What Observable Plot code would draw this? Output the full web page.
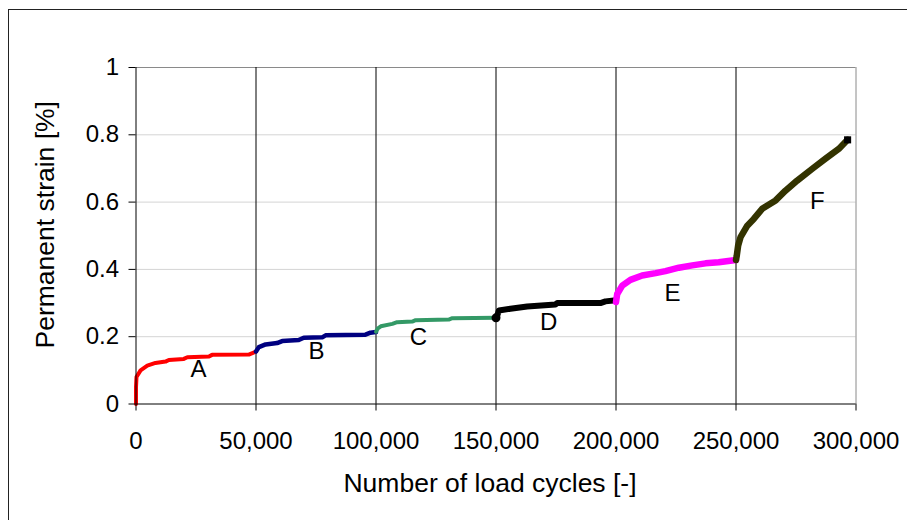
<!DOCTYPE html>
<html>
<head>
<meta charset="utf-8">
<script src="https://cdn.jsdelivr.net/npm/d3@7"></script>
<script src="https://cdn.jsdelivr.net/npm/@observablehq/plot@0.6"></script>
<style>
  body { margin: 0; background: #fff; }
  #chart { position: relative; width: 907px; height: 520px; overflow: hidden; }
  #frame { position: absolute; left: 8px; top: 9px; width: 940px; height: 560px;
           border: 1.5px solid #222; box-sizing: border-box; }
  #chart svg { position: absolute; left: 0; top: 0; }
</style>
</head>
<body>
<div id="chart"><div id="frame"></div></div>
<script>
// Permanent strain measured over six successive load stages (A–F)
const segmentNames = ["A", "B", "C", "D", "E", "F"];

const cyclesA = [0, 0, 200, 1900, 4700, 8100, 12300, 13700, 19900, 21400, 30400, 31700, 47000, 50000];
const strainA = [0, 0.05, 0.08, 0.10, 0.114, 0.122, 0.126, 0.131, 0.134, 0.139, 0.141, 0.146, 0.147, 0.156];

const cyclesB = [50000, 51200, 54000, 58800, 60900, 67800, 69900, 77600, 79000, 95600, 97700, 100000];
const strainB = [0.156, 0.169, 0.177, 0.181, 0.187, 0.190, 0.197, 0.198, 0.204, 0.206, 0.212, 0.214];

const cyclesC = [100000, 100800, 102000, 106800, 108800, 115100, 116500, 130300, 131800, 150000];
const strainC = [0.215, 0.225, 0.231, 0.238, 0.243, 0.245, 0.249, 0.251, 0.255, 0.256];

const cyclesD = [150000, 150500, 151200, 156000, 163000, 174800, 175500, 193500, 195600, 200000];
const strainD = [0.256, 0.262, 0.278, 0.283, 0.290, 0.296, 0.300, 0.300, 0.305, 0.308];

const cyclesE = [200000, 200500, 202600, 206000, 210900, 216500, 220600, 226200, 231800, 237300, 242800, 250000];
const strainE = [0.303, 0.327, 0.352, 0.369, 0.382, 0.389, 0.395, 0.405, 0.412, 0.418, 0.421, 0.428];

const cyclesF = [250000, 250300, 250900, 251900, 254700, 257400, 260900, 266500, 270600, 275500, 281800, 287300, 292800, 296500];
const strainF = [0.428, 0.440, 0.471, 0.496, 0.530, 0.550, 0.580, 0.605, 0.634, 0.664, 0.699, 0.729, 0.758, 0.785];

// Where each stage letter sits, in data units
const labelCycles = [26000, 75200, 117700, 171900, 223500, 283900];
const labelStrain = [0.1025, 0.156, 0.198, 0.242, 0.328, 0.602];

const xTicks = [0, 50000, 100000, 150000, 200000, 250000, 300000];
const xTickLabels = ["0", "50,000", "100,000", "150,000", "200,000", "250,000", "300,000"];
const yTicks = [0, 0.2, 0.4, 0.6, 0.8, 1];
const yTickLabels = ["0", "0.2", "0.4", "0.6", "0.8", "1"];

const xTitle = "Number of load cycles [-]";
const yTitle = "Permanent strain [%]";

// Stroke colour and weight per stage
const segColors = ["#ff0000", "#000080", "#339966", "#000000", "#ff00ff", "#333300"];
const segWidths = [4, 4.5, 4, 6, 6.5, 6.5];

const allCycles = [cyclesA, cyclesB, cyclesC, cyclesD, cyclesE, cyclesF];
const allStrain = [strainA, strainB, strainC, strainD, strainE, strainF];

const segments = segmentNames.map((name, k) => ({
  name,
  points: allCycles[k].map((c, i) => ({cycles: c, strain: allStrain[k][i]}))
}));
const labels = segmentNames.map((name, k) => ({name, cycles: labelCycles[k], strain: labelStrain[k]}));

const FS = 24;       // tick labels and stage letters
const TITLE_FS = 26.5; // axis titles

const lineMarks = segments.map((s, k) =>
  Plot.line(s.points, {
    x: "cycles", y: "strain", stroke: segColors[k], strokeWidth: segWidths[k],
    strokeLinejoin: "round", strokeLinecap: "round"
  })
);

const chart = Plot.plot({
  width: 907,
  height: 520,
  marginLeft: 135.5,
  marginRight: 51.5,
  marginTop: 67,
  marginBottom: 116.5,
  style: {fontFamily: "'Liberation Sans', Arial, sans-serif", background: "transparent", color: "#000"},
  x: {domain: [0, 300000]},
  y: {domain: [0, 1]},
  marks: [
    Plot.gridY(yTicks.slice(1, 5), {stroke: "#d4d4d4", strokeOpacity: 1}),
    Plot.ruleY([1], {stroke: "#8a8a8a"}),
    Plot.gridX(xTicks.slice(1, 6), {stroke: "#000", strokeOpacity: 1}),
    Plot.ruleX([300000], {stroke: "#8a8a8a"}),
    ...lineMarks,
    // round blob where stage D begins, square marker at the final reading
    Plot.dot([segments[3].points[0]], {x: "cycles", y: "strain", r: 4.5, fill: "#000"}),
    Plot.dot([segments[5].points[segments[5].points.length - 1]], {
      x: "cycles", y: "strain", symbol: "square", r: 4, fill: "#000"
    }),
    Plot.ruleX([0], {stroke: "#000"}),
    Plot.ruleY([0], {stroke: "#000"}),
    Plot.axisY(yTicks, {
      tickFormat: d => yTickLabels[yTicks.indexOf(d)], tickSize: 7, tickPadding: 10,
      fontSize: FS, label: null
    }),
    Plot.axisX(xTicks, {
      tickFormat: d => xTickLabels[xTicks.indexOf(d)], tickSize: 7, tickPadding: 21,
      fontSize: FS, label: null
    }),
    Plot.text(labels, {x: "cycles", y: "strain", text: "name", fontSize: FS, fill: "#000"}),
    Plot.text([xTitle], {frameAnchor: "bottom", dy: 88, dx: -6, fontSize: TITLE_FS, fill: "#000"}),
    Plot.text([yTitle], {
      frameAnchor: "left", textAnchor: "middle", dx: -90, dy: -11, rotate: -90,
      fontSize: TITLE_FS, fill: "#000"
    })
  ]
});

document.getElementById("chart").appendChild(chart);
</script>
</body>
</html>
